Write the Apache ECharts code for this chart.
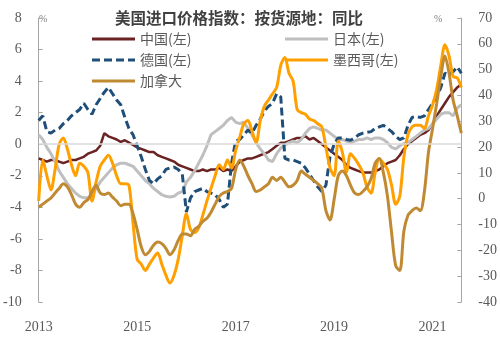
<!DOCTYPE html>
<html>
<head>
<meta charset="utf-8">
<script src="https://cdn.jsdelivr.net/npm/echarts@6/dist/echarts.min.js"></script>
<style>html,body{margin:0;padding:0;background:#fff;}#c{width:500px;height:350px;}</style>
</head>
<body>
<div id="c"></div>
<script>
// Monthly categories 2013-01 .. 2021-08
var months = [];
for (var y = 2013; y <= 2021; y++) {
  for (var m = 1; m <= 12; m++) {
    if (y === 2021 && m > 8) break;
    months.push(y + '-' + (m < 10 ? '0' + m : m));
  }
}
var yearLabels = ['2013', '2015', '2017', '2019', '2021'];
var leftTicks = [-10, -8, -6, -4, -2, 0, 2, 4, 6, 8];
var rightTicks = [-40, -30, -20, -10, 0, 10, 20, 30, 40, 50, 60, 70];

var china = [
  -0.9,-1.0,-1.1,-1.0,-1.0,-1.1,-1.2,-1.1,-1.0,-1.0,-0.9,-0.8,
  -0.6,-0.5,-0.4,-0.1,0.7,0.5,0.4,0.3,0.15,0.25,0.1,-0.05,
  -0.2,-0.3,-0.4,-0.5,-0.5,-0.7,-0.8,-0.9,-1.0,-1.1,-1.3,-1.4,
  -1.5,-1.6,-1.7,-1.7,-1.6,-1.7,-1.6,-1.6,-1.5,-1.7,-1.6,-1.7,
  -1.4,-1.1,-1.0,-0.9,-0.9,-0.8,-0.7,-0.6,-0.5,-0.3,-0.1,0.1,
  0.1,0.2,0.3,0.4,0.4,0.5,0.3,0.4,0.2,0.0,-0.2,-0.4,
  -0.6,-0.8,-1.0,-1.3,-1.5,-1.6,-1.7,-1.8,-1.8,-1.8,-1.7,-1.6,
  -1.4,-1.2,-1.1,-1.0,-0.7,-0.3,0.0,0.2,0.4,0.6,0.7,0.9,
  1.3,1.8,2.2,2.6,3.0,3.3,3.6,3.8
];
var japan = [
  0.6,0.3,-0.2,-0.6,-1.1,-1.7,-2.1,-2.5,-2.8,-3.1,-3.3,-3.4,
  -3.4,-3.3,-2.8,-2.4,-2.1,-1.8,-1.5,-1.3,-1.2,-1.2,-1.3,-1.4,
  -1.7,-2.0,-2.3,-2.5,-2.8,-3.0,-3.2,-3.3,-3.35,-3.3,-3.1,-3.0,
  -2.4,-2.1,-1.7,-1.2,-0.7,-0.1,0.6,0.8,1.0,1.2,1.5,1.7,
  1.4,1.3,1.4,1.0,0.6,0.1,-0.3,-0.6,-1.0,-1.1,-0.6,-0.25,
  -0.05,0.1,0.2,0.1,0.3,0.7,1.0,1.1,1.0,0.9,0.9,0.7,
  0.5,0.3,0.3,0.2,0.1,0.2,0.3,0.3,0.4,0.3,0.4,0.4,
  0.3,0.1,-0.2,-0.3,-0.1,0.05,0.1,0.3,0.5,0.7,0.9,1.0,
  1.3,1.6,1.9,2.0,2.0,1.8,2.3,2.5
];
var germany = [
  1.5,1.8,0.8,0.7,0.9,1.0,1.3,1.5,1.8,2.0,2.2,2.6,
  2.2,1.9,2.5,2.9,3.3,3.6,3.2,2.8,2.5,1.7,1.0,0.6,
  -0.1,-0.8,-1.6,-2.3,-2.5,-2.2,-2.0,-1.6,-1.5,-1.45,-1.6,-1.9,
  -4.3,-3.4,-3.0,-2.9,-2.8,-3.0,-3.1,-3.2,-3.5,-4.0,-3.8,-1.2,
  0.2,0.3,0.6,0.9,0.7,1.2,1.6,2.1,2.4,2.6,3.2,3.0,
  -0.9,-1.0,-1.0,-1.1,-1.2,-1.5,-1.9,-2.3,-2.7,-3.0,-2.6,-0.8,
  0.0,0.4,0.4,0.3,0.25,0.4,0.6,0.7,0.75,0.8,1.0,1.1,
  1.2,1.0,0.8,0.5,0.3,0.4,1.2,1.7,1.75,1.7,1.8,2.2,
  2.6,3.0,3.6,4.5,4.4,4.6,4.9,4.5
];
var mexico = [
  -3.6,-1.0,-2.0,-2.9,-1.6,0.0,0.4,-0.3,-1.3,-2.0,-1.2,-1.4,
  -1.8,-3.6,-2.4,-1.4,-1.0,-0.7,-1.2,-2.0,-2.5,-2.5,-2.6,-5.0,
  -7.3,-7.6,-8.0,-7.6,-7.2,-6.9,-7.6,-8.3,-8.8,-8.3,-7.3,-5.8,
  -4.4,-5.4,-5.6,-5.3,-4.5,-3.6,-2.8,-2.0,-1.3,-1.6,-1.0,-1.5,
  -0.4,0.45,1.3,1.5,0.8,0.1,1.5,2.4,2.8,3.2,3.6,5.0,
  5.5,4.5,4.0,2.2,2.0,1.9,1.6,1.5,1.3,1.1,-0.2,-1.5,
  -2.0,0.2,-0.5,-1.8,-0.6,-0.9,-1.3,-1.8,-2.7,-3.1,-1.8,-0.9,
  -1.2,-1.6,-2.6,-3.8,-3.3,-0.8,0.6,1.1,1.2,1.2,1.0,1.8,
  2.5,3.5,5.0,6.3,5.6,4.3,4.2,3.6
];
var canada = [
  -3.3,-2.1,-0.9,0.3,2.2,4.0,5.8,4.6,1.6,-2.1,-3.3,-1.5,
  -0.3,2.8,5.2,2.2,1.6,2.2,0.6,-0.9,-2.7,-2.1,-2.1,-5.8,
  -11.9,-18.6,-21.7,-20.4,-18.0,-16.8,-17.4,-19.2,-21.7,-19.8,-16.2,-13.7,
  -13.7,-14.3,-11.9,-10.7,-8.8,-7.6,-5.2,-2.1,0.9,2.2,2.8,4.0,
  11.3,15.0,12.6,8.9,5.8,2.8,3.4,4.6,5.8,8.3,7.1,8.3,
  6.4,4.6,5.2,7.1,10.7,9.5,8.3,7.1,5.8,4.0,-4.6,-8.2,
  -0.3,8.9,10.7,8.9,5.2,2.2,1.6,2.8,4.6,7.7,13.8,15.6,
  10.1,0.9,-13.1,-25.9,-27.8,-12.5,-6.4,-4.6,-3.6,-4.6,2.8,18.1,
  27.2,37.0,47.4,55.3,48.6,38.2,32.1,25.4
];

var names = ['中国(左)', '日本(左)', '德国(左)', '墨西哥(左)', '加拿大'];
var colors = ['#6B2222', '#BFBFBF', '#1F4E79', '#FFA000', '#C08A32'];

var chart = echarts.init(document.getElementById('c'));
var labelFont = '"Liberation Serif", "DejaVu Serif", serif';
var cjkFont = '"Noto Sans CJK SC", sans-serif';

var solidIcon = 'path://M0,0h43v3h-43z';
var dashIcon = 'path://M0,0h8v3h-8z M12,0h8v3h-8z M24,0h8v3h-8z M36,0h7v3h-7z';

function lg(i, left, top, icon) {
  return {
    data: [{ name: names[i], icon: icon }], left: left, top: top, padding: 0,
    itemWidth: 43, itemHeight: 3, itemGap: 0, symbolKeepAspect: false,
    textStyle: { fontSize: 14, color: '#595959', fontFamily: cjkFont },
    selectedMode: false
  };
}

chart.setOption({
  animation: false,
  color: colors,
  title: {
    text: '美国进口价格指数：按货源地：同比',
    left: 115, top: 10, padding: 0,
    textStyle: { fontSize: 15.5, fontWeight: 'bold', color: '#404040', fontFamily: cjkFont }
  },
  legend: [
    lg(0, 92, 32, solidIcon), lg(1, 285, 32, solidIcon),
    lg(2, 92, 53, dashIcon), lg(3, 285, 53, solidIcon),
    lg(4, 92, 74, solidIcon)
  ],
  grid: { left: 32, right: 37, top: 18, bottom: 48 },
  xAxis: {
    type: 'category',
    data: months,
    boundaryGap: false,
    axisLine: { show: false },
    axisTick: { show: false },
    axisLabel: {
      interval: function (idx) { return idx % 24 === 0; },
      formatter: function (v) { return yearLabels.indexOf(v.slice(0, 4)) >= 0 ? v.slice(0, 4) : ''; },
      fontSize: 14, color: '#595959', fontFamily: labelFont, margin: 18
    },
    splitLine: { show: false }
  },
  yAxis: [
    {
      type: 'value', min: leftTicks[0], max: leftTicks[leftTicks.length - 1], interval: 2,
      axisLine: { show: true, lineStyle: { color: '#A6A6A6', width: 1 } },
      axisTick: { show: true, inside: true, length: 4, lineStyle: { color: '#A6A6A6' } },
      axisLabel: { fontSize: 14, color: '#595959', fontFamily: labelFont, margin: 17 },
      splitLine: { show: false }
    },
    {
      type: 'value', min: rightTicks[0], max: rightTicks[rightTicks.length - 1], interval: 10,
      position: 'right',
      axisLine: { show: true, lineStyle: { color: '#A6A6A6', width: 1 } },
      axisTick: { show: true, inside: true, length: 4, lineStyle: { color: '#A6A6A6' } },
      axisLabel: { fontSize: 14, color: '#595959', fontFamily: labelFont, margin: 17 },
      splitLine: { show: false }
    }
  ],
  graphic: [
    { type: 'text', left: 39, top: 14, style: { text: '%', fontSize: 10, fill: '#7F7F7F', fontFamily: labelFont } },
    { type: 'text', left: 434, top: 14, style: { text: '%', fontSize: 10, fill: '#7F7F7F', fontFamily: labelFont } }
  ],
  series: [
    { name: names[0], type: 'line', data: china, yAxisIndex: 0, symbol: 'none',
      lineStyle: { width: 2.5, color: colors[0] },
      markLine: { silent: true, symbol: 'none', label: { show: false },
        lineStyle: { color: '#D9D9D9', width: 1.5, type: 'solid' }, data: [{ yAxis: 0 }] } },
    { name: names[1], type: 'line', data: japan, yAxisIndex: 0, symbol: 'none', lineStyle: { width: 3, color: colors[1] } },
    { name: names[2], type: 'line', data: germany, yAxisIndex: 0, symbol: 'none', lineStyle: { width: 3, color: colors[2], type: [8, 4] } },
    { name: names[3], type: 'line', data: mexico, yAxisIndex: 0, symbol: 'none', smooth: 0.3, lineStyle: { width: 3, color: colors[3] } },
    { name: names[4], type: 'line', data: canada, yAxisIndex: 1, symbol: 'none', smooth: 0.3, lineStyle: { width: 3, color: colors[4] } }
  ]
});
</script>
</body>
</html>
